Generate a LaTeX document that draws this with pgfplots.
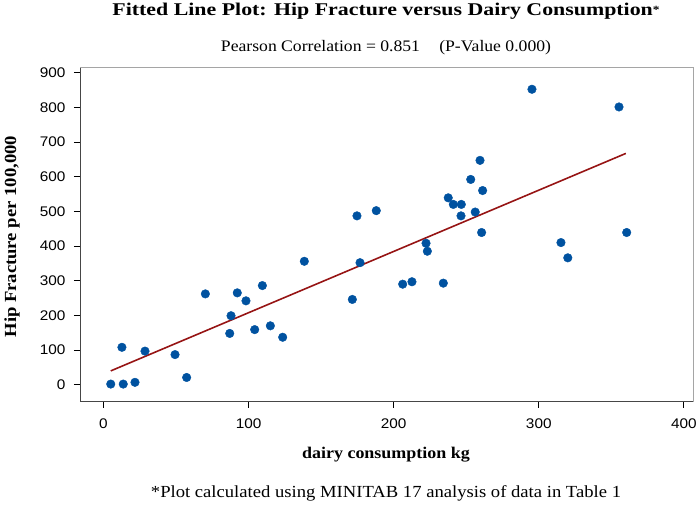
\documentclass[border=0pt]{standalone}
\usepackage{fontspec}
\setmainfont{Liberation Serif}[FakeStretch=1.1]
\newfontfamily\titlefont{Liberation Serif}[FakeStretch=1.22]
\newfontfamily\ticksans{Liberation Sans}[FakeStretch=1.1]
\usepackage{pgfplots}
\pgfplotsset{compat=1.18}
\definecolor{DotBlue}{RGB}{0, 82, 160}
\definecolor{FitRed}{RGB}{150, 20, 20}
\definecolor{Frame}{RGB}{165, 165, 165}
\definecolor{FrameDark}{RGB}{70, 70, 70}

\begin{document}
\begin{tikzpicture}
\begin{axis}[
    scale only axis,
    width=613bp, height=334bp,
    xmin=-16.2, xmax=406.3,
    ymin=-49, ymax=914,
    xtick={0,100,...,400},
    ytick={0,100,...,900},
    tick align=outside,
    tick pos=left,
    major tick length=6bp,
    axis line style={Frame, line width=0.8pt},
    tick style={black, line width=0.8pt},
    /pgf/number format/assume math mode=true,
    /pgf/number format/.cd, 1000 sep={},
    /pgfplots/.cd,
    tick label style={font=\ticksans\fontsize{14}{16}\selectfont},
    xticklabel style={yshift=-7bp},
    yticklabel style={xshift=-5bp},
    clip=false,
]
% darker left and bottom frame lines
\draw[FrameDark, line width=0.9pt] (rel axis cs:0,1) -- (rel axis cs:0,0) -- (rel axis cs:1,0);
\addplot[FitRed, line width=1.6pt] coordinates {(5,40) (360,667)};
\addplot[only marks, mark=*, mark size=4.3bp, DotBlue, mark options={draw=DotBlue, fill=DotBlue}]
    coordinates {
        (5,2) (13.6,2) (21.7,7) (12.7,108) (28.6,97) (49.3,87) (57.3,21)
        (70.2,262) (87,148) (87.9,199) (92.2,265) (98.2,242) (104.2,159)
        (109.5,286) (115,170) (123.5,137) (138.4,356) (171.5,246)
        (174.7,487) (176.8,352) (188,502)
        (206.2,290) (212.6,297) (222.3,408) (223.2,385) (234.2,293)
        (237.6,539) (241.1,520) (246.6,520) (246.4,487) (253.1,592)
        (256.2,498) (259.5,647) (261.3,560) (260.6,439) (295.3,852)
        (315.3,410) (320,366) (355.3,801) (360.6,439)
    };
\end{axis}
\node[anchor=base, font=\titlefont\bfseries\fontsize{18}{20}\selectfont] at (306bp,386bp)
    {Fitted Line Plot: Hip Fracture versus Dairy Consumption\raisebox{0.25ex}{\fontsize{11}{12}\selectfont*}};
\node[anchor=base, font=\fontsize{16.1}{18}\selectfont] at (306bp,350bp)
    {Pearson Correlation = 0.851\hspace{1.2em}(P-Value 0.000)};
\node[anchor=base, font=\bfseries\fontsize{16.4}{18}\selectfont] at (306bp,-57bp) {dairy consumption kg};
\node[anchor=base, font=\fontsize{17}{19}\selectfont] at (306bp,-96bp)
    {*Plot calculated using MINITAB 17 analysis of data in Table 1};
\node[font=\bfseries\fontsize{17}{19}\selectfont, rotate=90] at (-68bp,165bp)
    {Hip Fracture per 100,000};
\path[use as bounding box] (-80bp,-104bp) rectangle (620bp,401bp);
\end{tikzpicture}
\end{document}
